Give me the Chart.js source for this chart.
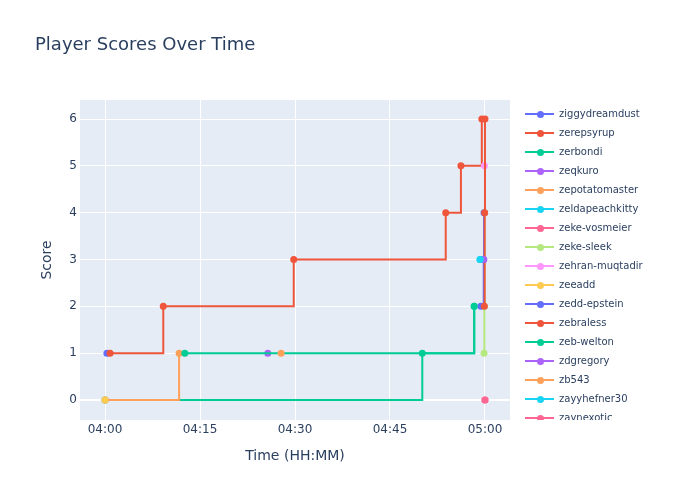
<!DOCTYPE html>
<html>
<head>
<meta charset="utf-8">
<script src="https://cdn.jsdelivr.net/npm/chart.js@4/dist/chart.umd.min.js"></script>
<style>
  html, body { margin: 0; padding: 0; background: #fff; }
  #wrap { position: relative; width: 700px; height: 500px; font-family: "DejaVu Sans", sans-serif; color: #2a3f5f; }
  #title { position: absolute; left: 35px; top: 35px; font-size: 18px; line-height: 18px; white-space: nowrap; }
  #legend { position: absolute; left: 520px; top: 104px; width: 180px; height: 316px; overflow: hidden; }
  .item { position: relative; height: 19px; font-size: 10px; line-height: 19px; }
  .item .ln { position: absolute; left: 5px; top: 9px; width: 29px; height: 2px; }
  .item .dot { position: absolute; left: 16.5px; top: 6.5px; width: 7px; height: 7px; border-radius: 50%; }
  .item .lbl { position: absolute; left: 39px; top: 0; white-space: nowrap; }
</style>
</head>
<body>
<div id="wrap">
  <canvas id="chart" width="700" height="500"></canvas>
  <div id="title">Player Scores Over Time</div>
  <div id="legend"></div>
</div>
<script>
(function () {
  "use strict";

  // minutes after 04:00 for each scoring event, and the score reached
  var players = [
    "ziggydreamdust", "zerepsyrup", "zerbondi", "zeqkuro", "zepotatomaster",
    "zeldapeachkitty", "zeke-vosmeier", "zeke-sleek", "zehran-muqtadir", "zeeadd",
    "zedd-epstein", "zebraless", "zeb-welton", "zdgregory", "zb543",
    "zayyhefner30", "zaynexotic"
  ];
  var minutes = [
    [0.3],
    [0.8, 9.2, 29.8, 53.8, 56.2, 59.5],
    [0, 50.1, 58.3],
    [25.7],
    [0, 11.7],
    [59.2],
    [60],
    [59.85, 59.9, 59.95],
    [59.9],
    [0],
    [59.35, 59.8, 59.85],
    [59.9, 59.95, 60],
    [12.6, 58.3],
    [59.8],
    [27.8],
    [59.25],
    [60]
  ];
  var scores = [
    [1],
    [1, 2, 3, 4, 5, 6],
    [0, 1, 2],
    [1],
    [0, 1],
    [3],
    [0],
    [1, 2, 4],
    [5],
    [0],
    [2, 3, 4],
    [2, 4, 6],
    [1, 2],
    [3],
    [1],
    [3],
    [0]
  ];
  var palette = ["#636efa", "#EF553B", "#00cc96", "#ab63fa", "#FFA15A",
                 "#19d3f3", "#FF6692", "#B6E880", "#FF97FF", "#FECB52"];
  var xTicks = ["04:00", "04:15", "04:30", "04:45", "05:00"];

  var ink = "#2a3f5f";
  var font = "'DejaVu Sans', sans-serif";

  var datasets = players.map(function (name, i) {
    var color = palette[i % palette.length];
    return {
      label: name,
      data: minutes[i].map(function (m, k) { return { x: m, y: scores[i][k] }; }),
      borderColor: color,
      backgroundColor: color,
      pointBackgroundColor: color,
      pointBorderWidth: 0,
      pointRadius: 3.5,
      borderWidth: 2,
      stepped: true,
      order: -i
    };
  });

  var plotBg = {
    id: "plotBg",
    beforeDraw: function (chart) {
      var a = chart.chartArea;
      chart.ctx.save();
      chart.ctx.fillStyle = "#E5ECF6";
      chart.ctx.fillRect(a.left, a.top, a.right - a.left, a.bottom - a.top);
      chart.ctx.restore();
    }
  };

  new Chart(document.getElementById("chart"), {
    type: "line",
    data: { datasets: datasets },
    plugins: [plotBg],
    options: {
      responsive: false,
      animation: false,
      layout: { padding: { left: 0, top: 100, right: 190, bottom: 0 } },
      plugins: { legend: { display: false }, tooltip: { enabled: false } },
      scales: {
        x: {
          type: "linear",
          min: -3.95,
          max: 63.95,
          afterFit: function (s) { s.height = 80; },
          border: { display: false },
          grid: { color: "#ffffff", lineWidth: 1, drawTicks: false },
          ticks: {
            stepSize: 15,
            includeBounds: false,
            padding: 3,
            maxRotation: 0,
            color: ink,
            font: { family: font, size: 12 },
            callback: function (v) { return xTicks[v / 15]; }
          },
          title: {
            display: true,
            text: "Time (HH:MM)",
            color: ink,
            font: { family: font, size: 14 },
            padding: { top: 0, bottom: 35 }
          }
        },
        y: {
          min: -0.427,
          max: 6.406,
          afterFit: function (s) { s.width = 80; },
          border: { display: false },
          grid: {
            color: "#ffffff",
            drawTicks: false,
            lineWidth: function (c) { return c.tick && c.tick.value === 0 ? 2 : 1; }
          },
          ticks: {
            stepSize: 1,
            includeBounds: false,
            padding: 3,
            color: ink,
            font: { family: font, size: 12 }
          },
          title: {
            display: true,
            text: "Score",
            color: ink,
            font: { family: font, size: 14 },
            padding: { top: 39, bottom: 0 }
          }
        }
      }
    }
  });

  var legend = document.getElementById("legend");
  players.forEach(function (name, i) {
    var color = palette[i % palette.length];
    var row = document.createElement("div");
    row.className = "item";
    row.innerHTML = '<span class="ln" style="background:' + color + '"></span>' +
      '<span class="dot" style="background:' + color + '"></span>' +
      '<span class="lbl"></span>';
    row.querySelector(".lbl").textContent = name;
    legend.appendChild(row);
  });
})();
</script>
</body>
</html>
